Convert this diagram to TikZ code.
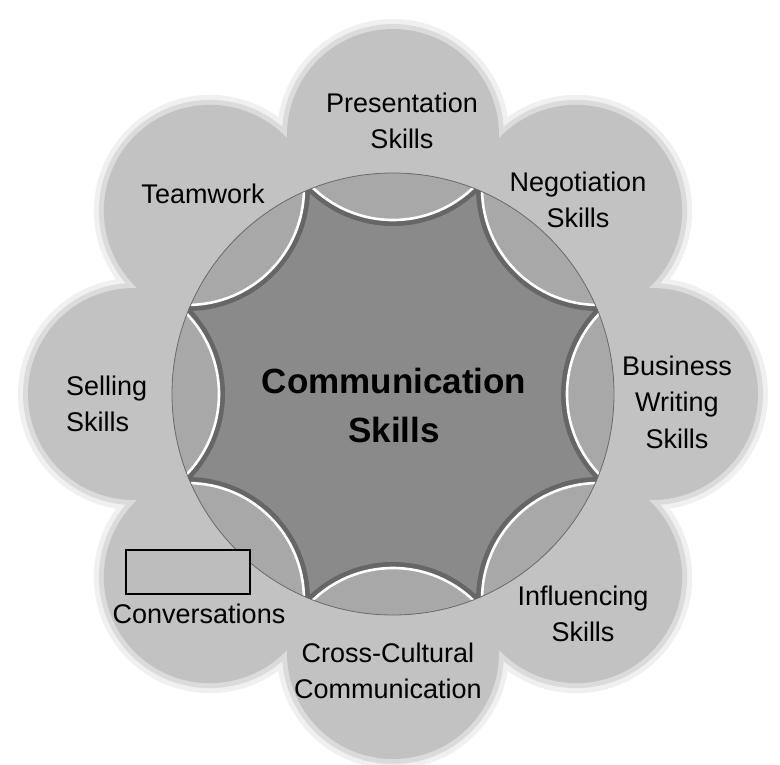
\documentclass[tikz,border=0pt]{standalone}
\usepackage{fontspec}
\setmainfont{Liberation Sans}
\begin{document}
\begin{tikzpicture}[x=1pt,y=-1pt]
\tikzset{
  lbl/.style={font=\fontsize{27}{36.5}\selectfont, align=center, inner sep=0pt, text=black},
  hub/.style={font=\bfseries\fontsize{35}{49}\selectfont, align=center, inner sep=0pt, text=black},
  satfill/.style={fill=black!24},
  lensfill/.style={fill=black!34},
  corefill/.style={fill=black!46},
}
\useasboundingbox (0,0) rectangle (780,764);
\fill[white] (0,0) rectangle (780,764);
\coordinate (c) at (393,394);
% outer satellites with soft edge
\foreach \a in {0,45,...,315} \fill[black!6] (c) ++(\a:259) circle (116);
\foreach \a in {0,45,...,315} \fill[black!14] (c) ++(\a:259) circle (111);
\foreach \a in {0,45,...,315} \fill[satfill] (c) ++(\a:259) circle (106);
% core
\fill[corefill] (c) circle (221);
\begin{scope}
  \clip (c) circle (221);
  \foreach \a in {0,45,...,315} \draw[black!60, line width=6pt] (c) ++(\a:290) circle (119);
  \foreach \a in {0,45,...,315} \fill[lensfill] (c) ++(\a:290) circle (116);
  \foreach \a in {0,45,...,315} \draw[white, line width=2.6pt] (c) ++(\a:290) circle (116);
\end{scope}
\draw[black!58, line width=0.8pt] (c) circle (221);
% labels
\node[hub] (hub) at (394,405) {Communication\\Skills};
\node[lbl] (pres) at (402,121) {Presentation\\Skills};
\node[lbl] (team) at (203,194) {Teamwork};
\node[lbl] (nego) at (578,200) {Negotiation\\Skills};
\node[lbl] (busi) at (677,402) {Business\\Writing\\Skills};
\node[lbl, align=left, anchor=west] (sell) at (66,404) {Selling\\Skills};
\node[lbl] (infl) at (583,614) {Influencing\\Skills};
\node[lbl] (cross) at (388,671) {Cross-Cultural\\Communication};
\node[lbl] (conv) at (199,614) {Conversations};
\node[draw=black, line width=2pt, fill=black!26, minimum width=124pt, minimum height=44pt, inner sep=0pt] (box) at (188,572) {};
\end{tikzpicture}
\end{document}
